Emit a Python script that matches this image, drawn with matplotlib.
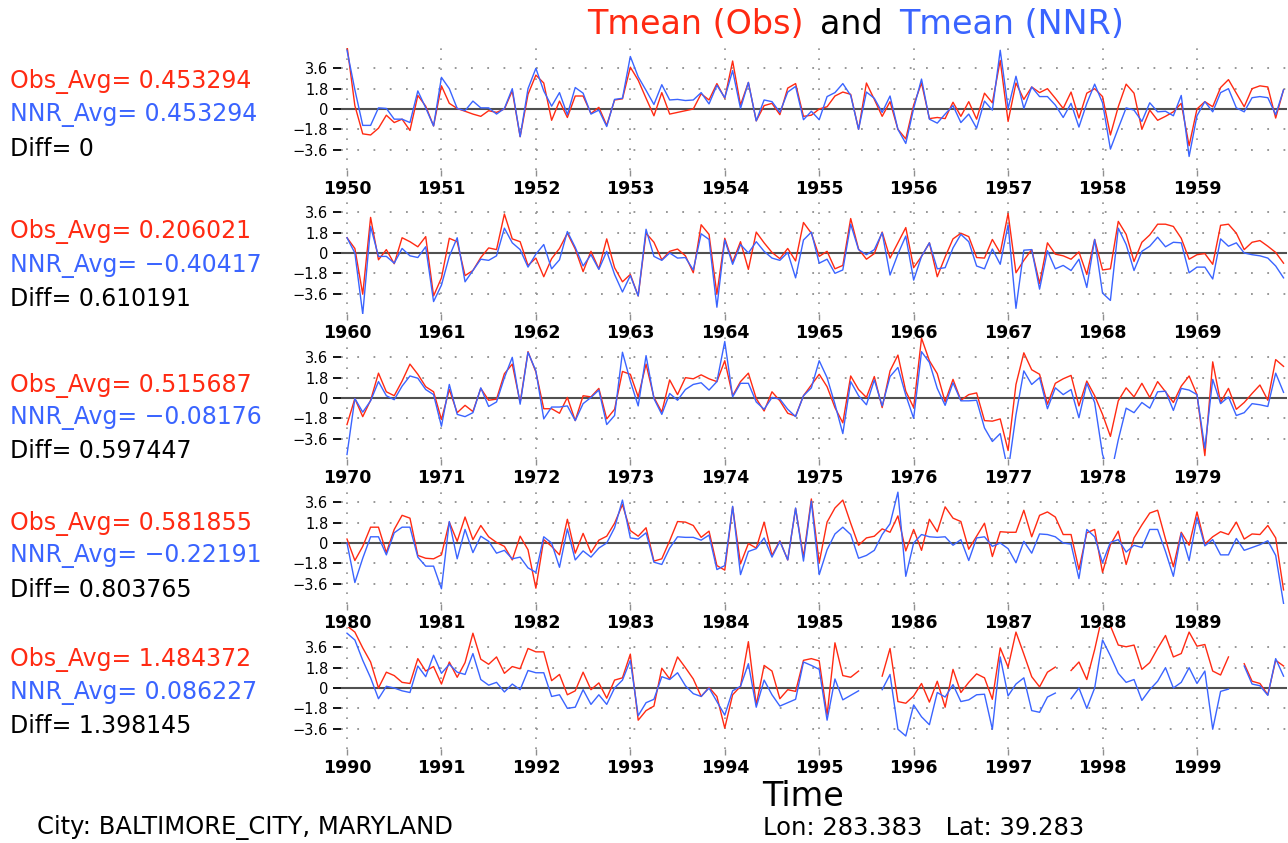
import numpy as np
import matplotlib
matplotlib.use("Agg")
from matplotlib import pyplot as plt

nan = np.nan
RED = '#ff2a12'
BLUE = '#3a64ff'

decades = [1950, 1960, 1970, 1980, 1990]
obs_avg = ['0.453294', '0.206021', '0.515687', '0.581855', '1.484372']
nnr_avg = ['0.453294', '\u22120.40417', '\u22120.08176', '\u22120.22191', '0.086227']
diff = ['0', '0.610191', '0.597447', '0.803765', '1.398145']
yticks = [-3.6, -1.8, 0, 1.8, 3.6]
ytick_labels = ['\u22123.6', '\u22121.8', '0', '1.8', '3.6']

# monthly anomalies, one list per decade (Jan of first year .. Dec of last)
obs_1950s = [5.6, 0.3, -2.2, -2.3, -1.7, -0.55, -1.2, -0.9, -1.9, 1.2, 0.25, -1.5,
             2.05, 0.5, 0.05, -0.2, -0.45, -0.65, -0.15, -0.3, 0.0, 1.6, -2.45, 1.3,
             3.0, 2.3, -1.0, 0.7, -0.75, 1.15, 1.15, -0.4, 0.15, -1.45, 0.8, 0.9,
             3.7, 2.55, 0.95, -0.6, 1.45, -0.45, -0.3, -0.15, 0.0, 1.35, 0.8, 2.25,
             0.95, 4.25, 0.35, 2.35, -1.05, 0.3, 0.5, -0.5, 1.85, 2.25, -0.65, -0.55,
             0.0, 0.2, 1.15, 1.5, 1.3, -1.8, 2.3, 0.85, -0.65, 0.65, -1.8, -2.65,
             0.35, 2.3, -0.85, -0.75, -0.85, 0.6, -0.65, 0.65, -0.9, 1.4, 0.55, 4.3,
             -1.1, 2.3, 0.85, 1.95, 1.45, 1.8, 0.95, 0.05, 1.5, -0.8, 1.4, 1.8,
             1.1, -2.3, 0.2, 2.2, 1.4, -1.8, -0.1, -1.0, -0.65, -0.25, 0.5, -3.25,
             0.0, 0.65, 0.2, 1.9, 2.6, 1.4, 0.2, 1.8, 2.05, 1.95, -0.8, 1.7]
nnr_1950s = [5.2, 1.7, -1.45, -1.45, 0.1, 0.05, -0.9, -0.9, -1.2, 1.6, 0.1, -1.5,
             2.8, 1.8, 0.05, -0.15, 0.7, 0.1, 0.1, -0.45, 0.05, 1.8, -2.45, 1.8,
             3.6, 1.6, 0.25, 1.45, -0.5, 1.9, 1.4, -0.45, -0.1, -1.55, 0.85, 0.95,
             4.65, 2.85, 1.65, 0.4, 2.15, 0.8, 0.85, 0.75, 0.8, 1.45, 0.45, 2.1,
             1.0, 3.4, 0.05, 2.35, -1.05, 0.8, 0.65, -0.3, 1.5, 2.0, -0.95, -0.2,
             -0.95, 1.1, 1.45, 2.25, 1.2, -1.8, 1.5, 0.95, -0.3, 1.15, -1.8, -3.05,
             0.05, 2.65, -0.9, -1.25, -0.45, 0.3, -1.2, -0.45, -1.7, 0.7, -0.1, 5.2,
             0.05, 2.9, 0.05, 1.95, 1.1, 1.1, 0.35, -0.75, 0.5, -1.6, 0.5, 2.2,
             0.55, -3.55, -1.7, 0.1, -0.1, -1.1, 0.55, -0.25, -0.2, -0.6, 1.2, -4.2,
             -0.6, 0.65, -0.25, 1.45, 1.8, 0.1, -0.25, 1.0, 1.1, 1.0, -0.5, 1.7]

obs_1960s = [1.35, 0.4, -3.65, 3.15, -0.6, 0.3, -0.95, 1.35, 1.0, 0.55, 1.45, -3.8,
             -2.2, 1.3, 1.0, -2.0, -1.55, -0.4, 0.45, 0.3, 3.45, 1.25, 1.0, -1.1,
             -0.45, -2.1, -0.5, 0.4, 1.75, 0.35, -1.65, 0.15, -1.4, 1.25, -1.3, -2.55,
             -1.9, -3.8, 1.75, 0.95, -0.6, 0.15, 0.35, -0.25, -1.75, 2.5, 1.65, -3.65,
             1.3, -0.8, 1.0, -1.45, 1.85, 0.9, 0.05, -0.5, 0.4, -0.7, 2.7, 1.75,
             -0.3, 0.15, -1.4, -1.1, 3.05, 0.35, -0.55, -0.05, 1.85, -0.45, 0.9, 2.25,
             -1.3, -0.3, 0.9, -2.1, -0.35, 1.25, 1.75, 1.45, -0.4, -0.45, 1.2, 0.0,
             3.5, -1.75, -0.65, 0.3, -2.7, 0.9, -0.1, -0.25, -0.55, 0.1, -1.9, 1.2,
             -1.5, -1.4, 2.8, 1.65, -0.75, 0.95, 1.6, 2.55, 2.55, 2.35, 1.3, -0.55,
             -0.15, -0.05, -1.0, 2.45, 2.55, 1.75, 0.3, 0.95, 1.1, 0.6, 0.05, -0.9]
nnr_1960s = [1.35, 0.0, -5.4, 2.35, -0.3, -0.3, -0.9, 0.4, -0.25, -0.4, 0.55, -4.3,
             -2.85, -0.3, 1.35, -2.55, -1.55, -0.55, -0.65, -0.25, 2.2, 0.9, 0.3, -1.25,
             -0.1, 0.75, -1.4, -0.6, 1.9, 0.5, -1.15, -0.15, -1.45, 0.15, -1.9, -3.45,
             -2.0, -3.8, 2.1, -0.3, -0.65, 0.0, -0.45, -0.4, -1.5, 1.7, 1.2, -4.8,
             1.15, -1.0, 0.75, 0.0, 1.0, 0.15, -0.45, -0.65, 0.05, -2.2, 1.15, 1.85,
             -0.9, -0.55, -1.8, -1.5, 2.55, 0.3, -0.15, 0.3, 1.8, -1.95, -0.1, 1.5,
             -2.4, -0.3, 0.9, -1.4, -1.3, 0.45, 1.65, 1.0, -1.15, -1.4, 0.35, -1.0,
             2.5, -4.9, 0.25, 0.3, -3.2, 0.2, -1.4, -1.1, -1.55, -0.55, -3.05, 1.2,
             -3.55, -4.2, 2.2, 0.75, -1.55, 0.15, 0.6, 1.4, 0.55, 0.95, 0.9, -1.75,
             -1.25, -1.25, -2.3, 1.25, 0.6, 0.9, 0.0, -0.15, -0.25, -0.45, -1.15, -2.2]

obs_1970s = [-2.35, -0.05, -1.65, -0.2, 2.2, 0.55, 0.2, 1.5, 3.0, 2.1, 1.0, 0.55,
             -1.9, 0.75, -1.3, -0.65, -1.2, 0.85, -0.2, -0.1, 2.15, 3.0, -0.4, 4.1,
             2.3, -0.95, -0.95, -1.35, 0.05, -2.0, 0.2, 0.1, 0.85, -1.85, -1.0, 2.35,
             2.1, 0.1, 3.0, 0.05, -1.25, 1.6, 0.3, 1.8, 1.7, 2.05, 1.7, 1.45,
             3.3, 0.2, 1.45, 2.2, -0.05, -1.15, 0.55, -0.25, -1.35, -1.6, 0.2, 1.15,
             2.1, 1.0, -0.85, -2.2, 1.95, 0.75, 0.05, 1.9, -0.85, 2.4, 3.8, 0.6,
             -0.85, 5.3, 3.3, 2.15, -0.35, 1.65, -0.2, 0.3, 0.45, -2.0, -2.05, -1.85,
             -4.65, 1.2, 4.0, 2.5, 2.1, -0.55, 1.3, 1.7, 2.0, -0.7, 1.5, 0.2,
             -1.45, -3.4, -0.25, 0.9, 0.1, 1.3, 0.05, 1.45, 0.55, -0.4, 1.05, 1.95,
             0.3, -5.1, 3.2, -0.4, 0.85, -1.0, -0.4, 0.4, 1.15, -0.2, 3.4, 2.8]
nnr_1970s = [-5.0, -0.05, -1.25, -0.25, 1.45, 0.2, -0.15, 1.05, 1.95, 1.75, 0.75, 0.3,
             -2.5, 1.2, -1.45, -1.65, -1.3, 0.9, -0.75, -0.35, 1.8, 3.6, -0.55, 4.05,
             2.4, -1.85, -0.8, -0.8, -0.7, -2.0, -0.5, 0.05, 0.7, -2.35, -1.55, 4.05,
             1.5, -0.7, 3.75, -0.05, -1.45, 0.4, -0.2, 0.75, 1.2, 1.35, 0.7, 1.45,
             5.0, 0.1, 1.3, 1.3, -0.35, -1.0, 0.05, -0.1, -1.0, -1.65, 0.2, 0.9,
             3.3, 1.8, -0.55, -3.15, 1.45, 0.2, -0.6, 1.6, -0.7, 1.9, 2.7, 0.25,
             -1.8, 4.1, 3.15, 0.85, -0.65, 1.35, -0.25, -0.25, -0.2, -2.65, -3.85, -3.15,
             -6.5, -1.5, 2.4, 1.2, 1.8, -0.95, 0.9, 0.3, 0.75, -1.75, 1.3, -0.4,
             -5.0, -7.0, -3.7, -0.9, -1.3, -0.4, -0.9, 0.55, 0.6, -1.1, 0.85, 0.7,
             0.3, -4.45, 1.65, -0.5, 0.1, -1.55, -1.3, -0.5, -0.6, -0.75, 2.2, 0.5]

obs_1980s = [0.35, -1.55, -0.3, 1.4, 1.4, -0.85, 1.2, 2.45, 2.2, -1.1, -1.35, -1.4,
             -1.05, 1.85, 0.15, 2.3, 0.3, 1.55, 0.55, 0.05, -0.3, -1.5, 0.6, -0.6,
             -4.0, 0.3, -0.3, -1.05, 2.1, -0.9, 0.85, -0.85, 0.25, 0.6, 1.75, 3.4,
             1.1, 0.6, 1.35, -1.6, -1.4, 0.2, 1.9, 1.85, 1.55, 0.5, 1.05, -2.0,
             -2.4, 3.2, -1.85, -0.05, -0.45, 1.85, -1.1, 0.2, -1.5, 3.05, -1.25, 3.9,
             -1.75, 1.85, 3.1, 3.8, 1.75, -0.2, 0.45, 0.6, 1.25, 0.95, 2.4, -0.7,
             1.2, -0.65, 2.1, 1.0, 3.2, 2.2, 1.9, -0.55, 0.6, 1.75, -1.2, 1.0,
             0.95, 0.95, 2.9, 0.55, 2.45, 2.75, 2.3, 0.75, 0.75, -2.35, 0.9, 1.2,
             -2.6, -0.15, 1.05, -1.9, 0.45, 1.6, 2.65, 2.9, 0.35, -2.1, 0.95, -0.2,
             2.75, -0.1, 0.55, 1.0, 0.75, 1.85, 0.35, 0.8, 0.75, 1.55, 0.45, -4.15]
nnr_1980s = [0.0, -3.5, -1.35, 0.55, 0.55, -1.05, 0.9, 1.4, 1.4, -1.25, -2.05, -2.05,
             -4.05, 1.9, -1.4, 1.2, -0.85, 0.6, 0.15, -0.9, -0.65, -1.4, -1.25, -2.2,
             -2.6, 0.55, 0.0, -2.15, 1.25, -1.5, -0.7, -1.25, -0.45, 0.0, 1.35, 3.8,
             0.45, 0.35, 0.9, -1.7, -1.9, -0.45, 0.55, 0.5, 0.5, 0.25, 0.7, -2.35,
             -2.0, 3.25, -2.8, -0.75, -0.5, 0.45, -1.25, 0.15, -1.5, 3.1, -1.6, 3.7,
             -2.8, -0.6, 0.8, 1.4, 0.75, -1.35, -1.1, -0.65, 0.75, 1.7, 4.5, -2.95,
             0.0, 0.75, 0.55, 0.5, 0.55, -0.2, 0.3, -1.55, 0.45, 0.55, -0.3, 0.0,
             -0.5, -1.75, 0.15, -0.9, 0.8, 0.75, 0.55, 0.0, -0.1, -3.15, 1.2, 0.55,
             -1.75, 0.05, 0.3, -0.8, -0.2, -0.4, 1.2, 1.2, -0.75, -2.95, 0.85, -1.55,
             2.25, -0.25, 0.3, -1.05, -1.05, 0.4, -0.65, -0.4, -0.15, 0.2, -1.1, -5.35]

obs_1990s = [5.5, 4.95, 3.55, 2.3, 0.0, 1.4, 1.1, 0.5, 0.4, 2.6, 1.5, 1.9,
             0.35, 2.3, 0.95, 2.25, 4.85, 2.55, 2.1, 2.75, 1.3, 1.9, 1.7, 3.5,
             3.2, 3.2, 0.65, 1.2, -0.6, -0.25, 1.4, -0.15, 0.45, -0.9, 0.7, 0.9,
             3.0, -2.85, -2.0, -1.6, 1.75, 0.8, 2.75, 1.8, 0.8, -0.75, 0.05, -0.75,
             -3.55, -0.6, 0.15, 4.1, -1.5, 2.0, 1.5, -0.95, -0.15, -0.3, 2.45, 2.6,
             2.4, -2.4, 4.0, 1.1, 0.95, 1.5, nan, nan, 1.05, 3.5, -1.2, -1.35,
             -0.7, 0.4, -1.25, 0.6, -1.7, 1.65, -0.4, 0.5, 1.25, 0.9, -1.0, 3.55,
             1.85, 4.95, 3.0, 1.0, 0.1, 1.4, 1.85, nan, 1.55, 2.3, 0.75, 3.4,
             6.5, 5.5, 3.8, 3.65, 3.8, 1.65, 2.25, 3.5, 4.65, 2.75, 3.05, 4.95,
             3.7, 3.85, 1.5, 1.15, 2.75, nan, 2.15, 0.6, 0.4, -0.6, 2.45, 1.95]
nnr_1990s = [4.85, 4.25, 2.45, 0.9, -0.95, 0.15, 0.0, -0.25, -0.4, 1.95, 1.0, 2.9,
             1.3, 2.1, 1.4, 1.2, 3.05, 0.75, 0.25, 0.5, -0.35, 0.35, -0.15, 1.55,
             1.35, 1.35, -0.75, -0.6, -1.8, -1.7, -0.15, -1.45, -0.6, -1.45, 0.0, 0.7,
             2.45, -2.45, -1.3, -1.0, 1.0, 0.75, 1.35, 0.2, -0.5, -0.75, 0.0, -1.2,
             -2.4, -0.25, 0.15, 2.15, -1.7, 0.7, -0.6, -1.6, -1.3, -1.0, 2.3, 2.0,
             1.65, -2.85, 0.8, -1.05, -0.65, -0.25, nan, nan, -0.15, 1.2, -3.65, -4.25,
             -1.5, -2.55, -3.25, -0.4, -0.8, 0.3, -1.2, -1.05, -0.6, -0.55, -3.65, 2.75,
             -0.7, 0.35, 0.9, -2.0, -2.15, -0.8, -0.45, nan, -0.95, 0.0, -1.8, 0.0,
             4.25, 2.85, 1.3, 0.5, 0.75, -1.1, -0.15, 0.6, 1.8, 0.0, 0.5, 1.8,
             0.4, 1.5, -3.65, -0.3, -0.1, nan, 1.95, 0.35, 0.2, -0.65, 2.6, 1.05]

obs = [obs_1950s, obs_1960s, obs_1970s, obs_1980s, obs_1990s]
nnr = [nnr_1950s, nnr_1960s, nnr_1970s, nnr_1980s, nnr_1990s]

W, H = 1288, 843
fig = plt.figure(figsize=(W / 100, H / 100), dpi=100)
plt.rcParams['font.family'] = ['DejaVu Sans']

months = np.arange(120)
panel_bottoms = [170, 314, 459, 604, 749]   # pixel rows of the panel bottoms
panel_h = 122
label_rows = [(82, 115, 149), (232, 266, 299), (385, 418, 451),
              (523, 556, 590), (660, 693, 726)]
x0, x1 = 340.7, 1286.7

for k in range(5):
    ax = fig.add_axes([x0 / W, 1 - panel_bottoms[k] / H, (x1 - x0) / W, panel_h / H])
    ax.patch.set_visible(False)
    ax.set_xlim(-0.8, 119.4)
    ax.set_ylim(-5.4, 5.4)
    for s in ax.spines.values():
        s.set_visible(False)
    for yv in [-3.6, -1.8, 1.8, 3.6]:
        ax.axhline(yv, color='#909090', lw=1.3, ls=(0, (1, 8)))
    for m in range(0, 120, 12):
        ax.axvline(m, color='#909090', lw=1.2, ls=(0, (1, 5)))
    ax.axhline(0, color='#505050', lw=1.5)
    ax.plot(months, obs[k], color=RED, lw=1.0)
    ax.plot(months, nnr[k], color=BLUE, lw=1.0)

    ax.set_yticks(yticks)
    ax.set_yticklabels(ytick_labels)
    ax.set_xticks(range(0, 120, 12))
    ax.set_xticklabels([str(decades[k] + i) for i in range(10)], fontweight='bold')
    ax.tick_params(axis='y', length=6, width=1.3, pad=3, labelsize=10.5)
    ax.tick_params(axis='x', length=4, width=1, color='#909090', pad=3, labelsize=12.5)

    r1, r2, r3 = label_rows[k]
    fig.text(10 / W, 1 - r1 / H, 'Obs_Avg= ' + obs_avg[k], color=RED, fontsize=17, va='center')
    fig.text(10 / W, 1 - r2 / H, 'NNR_Avg= ' + nnr_avg[k], color=BLUE, fontsize=17, va='center')
    fig.text(10 / W, 1 - r3 / H, 'Diff= ' + diff[k], color='black', fontsize=17, va='center')

# title in three colours
t1 = fig.text(587 / W, 1 - 25 / H, 'Tmean (Obs)', color=RED, fontsize=24, va='center')
t2 = ax.annotate('and', xy=(1, 0.5), xycoords=t1, xytext=(12, 0), textcoords='offset points',
                 color='black', fontsize=24, va='center', annotation_clip=False)
ax.annotate('Tmean (NNR)', xy=(1, 0.5), xycoords=t2, xytext=(12, 0), textcoords='offset points',
            color=BLUE, fontsize=24, va='center', annotation_clip=False)

fig.text(803 / W, 1 - 797 / H, 'Time', fontsize=24, ha='center', va='center')
fig.text(37 / W, 1 - 828 / H, 'City: BALTIMORE_CITY, MARYLAND', fontsize=17.5, va='center')
fig.text(763 / W, 1 - 828 / H, 'Lon: 283.383   Lat: 39.283', fontsize=17.5, va='center')

plt.savefig('out.png', dpi=100)
